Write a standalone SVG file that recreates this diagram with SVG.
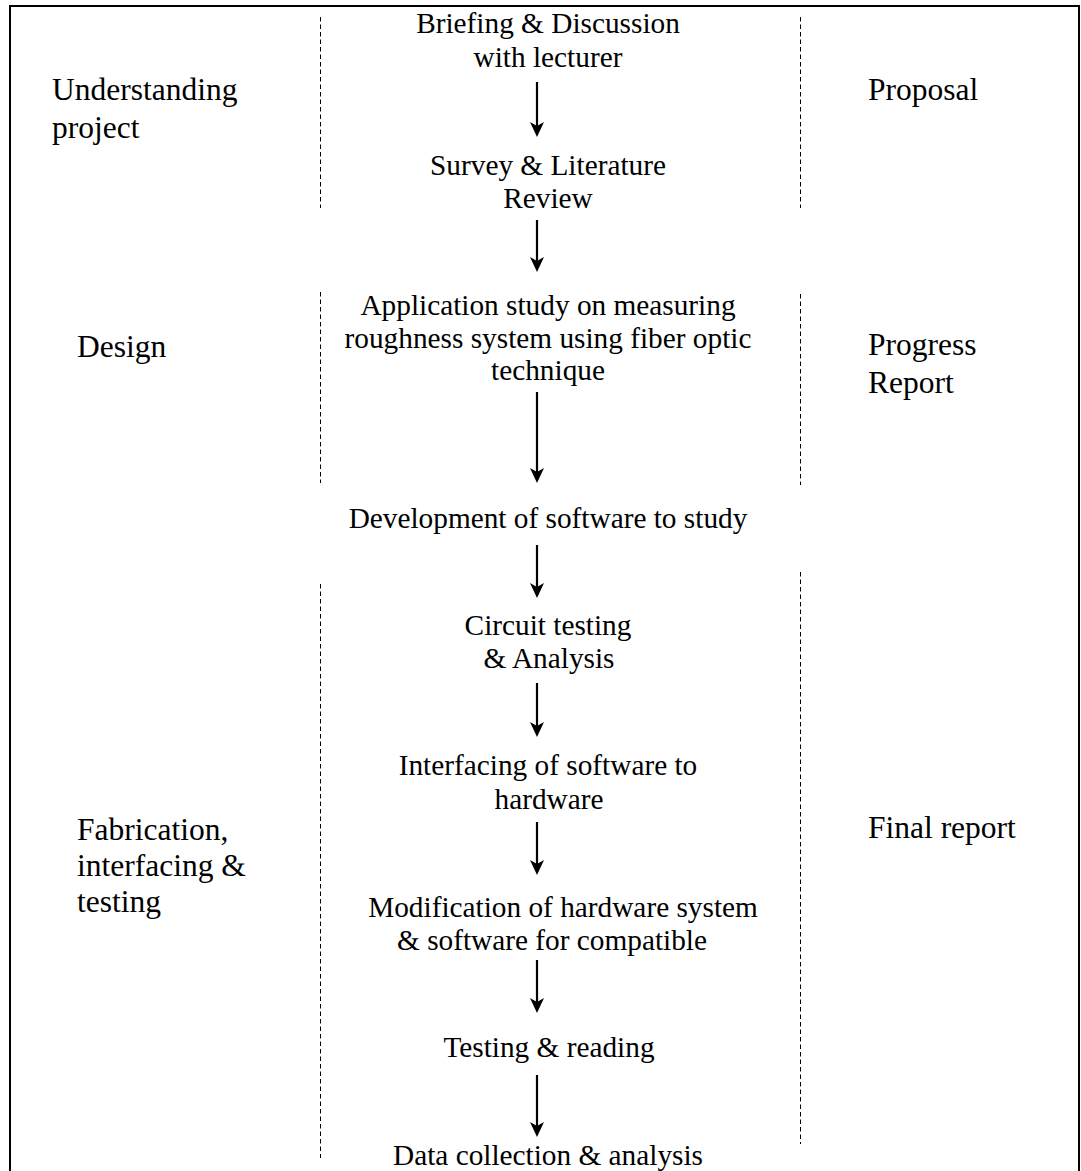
<svg xmlns="http://www.w3.org/2000/svg" width="1081" height="1171" viewBox="0 0 1081 1171">
  <defs>
    <style>
      text { font-family: "Liberation Serif", "Times New Roman", serif; fill: #000; }
      .side { font-size: 31.5px; }
      .step { font-size: 29.3px; text-anchor: middle; }
      .dash { stroke: #000; stroke-width: 1; stroke-dasharray: 4.5 3; fill: none; }
      .arrow { stroke: #000; stroke-width: 2.2; fill: none; marker-end: url(#head); }
    </style>
    <marker id="head" markerUnits="userSpaceOnUse" viewBox="0 0 15 14" refX="7" refY="7" markerWidth="15" markerHeight="14" orient="auto">
      <path d="M0,0 L15,7 L0,14 L4,7 Z" fill="#000"/>
    </marker>
  </defs>

  <rect x="10" y="6" width="1069" height="1200" fill="#fff" stroke="#000" stroke-width="2"/>

  <g id="dividers">
    <line class="dash" x1="320.5" y1="17" x2="320.5" y2="208"/>
    <line class="dash" x1="800.5" y1="17" x2="800.5" y2="208"/>
    <line class="dash" x1="320.5" y1="292" x2="320.5" y2="483"/>
    <line class="dash" x1="800.5" y1="294" x2="800.5" y2="485"/>
    <line class="dash" x1="320.5" y1="584" x2="320.5" y2="1158"/>
    <line class="dash" x1="800.5" y1="572" x2="800.5" y2="1144"/>
  </g>

  <g id="phase-understanding"><text class="side" x="52" y="100">Understanding</text><text class="side" x="52" y="138">project</text></g>
  <g id="phase-design"><text class="side" x="77" y="357">Design</text></g>
  <g id="phase-fabrication"><text class="side" x="77" y="840">Fabrication,</text><text class="side" x="77" y="876">interfacing &amp;</text><text class="side" x="77" y="912">testing</text></g>

  <g id="report-proposal"><text class="side" x="868" y="100">Proposal</text></g>
  <g id="report-progress"><text class="side" x="868" y="355">Progress</text><text class="side" x="868" y="393">Report</text></g>
  <g id="report-final"><text class="side" x="868" y="838">Final report</text></g>

  <g id="step-briefing"><text class="step" x="548" y="33">Briefing &amp; Discussion</text><text class="step" x="548" y="67">with lecturer</text></g>
  <g id="step-survey"><text class="step" x="548" y="175">Survey &amp; Literature</text><text class="step" x="548" y="208">Review</text></g>
  <g id="step-application"><text class="step" x="548" y="315">Application study on measuring</text><text class="step" x="548" y="348">roughness system using fiber optic</text><text class="step" x="548" y="380">technique</text></g>
  <g id="step-development"><text class="step" x="548" y="528">Development of software to study</text></g>
  <g id="step-circuit"><text class="step" x="548" y="635">Circuit testing</text><text class="step" x="549" y="668">&amp; Analysis</text></g>
  <g id="step-interfacing"><text class="step" x="548" y="775">Interfacing of software to</text><text class="step" x="549" y="809">hardware</text></g>
  <g id="step-modification"><text class="step" x="563" y="917">Modification of hardware system</text><text class="step" x="552" y="950">&amp; software for compatible</text></g>
  <g id="step-testing"><text class="step" x="549" y="1057">Testing &amp; reading</text></g>
  <g id="step-data"><text class="step" x="548" y="1165">Data collection &amp; analysis</text></g>

  <g id="connectors">
    <line class="arrow" x1="537" y1="82" x2="537" y2="129"/>
    <line class="arrow" x1="537" y1="220" x2="537" y2="264"/>
    <line class="arrow" x1="537" y1="392" x2="537" y2="475"/>
    <line class="arrow" x1="537" y1="545" x2="537" y2="590"/>
    <line class="arrow" x1="537" y1="683" x2="537" y2="729"/>
    <line class="arrow" x1="537" y1="822" x2="537" y2="867"/>
    <line class="arrow" x1="537" y1="960" x2="537" y2="1005"/>
    <line class="arrow" x1="537" y1="1075" x2="537" y2="1129"/>
  </g>
</svg>
